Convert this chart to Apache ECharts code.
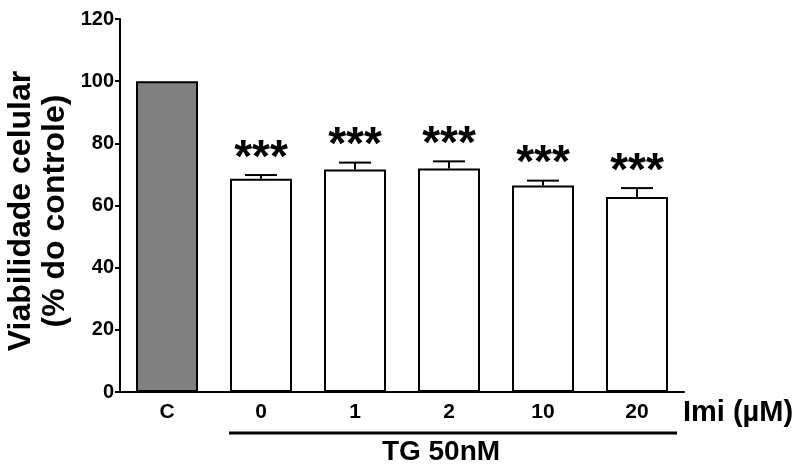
<!DOCTYPE html>
<html>
<head>
<meta charset="utf-8">
<script src="https://cdn.jsdelivr.net/npm/echarts@6/dist/echarts.min.js"></script>
<style>html,body{margin:0;padding:0;background:#fff;}#c{width:796px;height:469px;}</style>
</head>
<body>
<div id="c"></div>
<script>
var categories = ['C', '0', '1', '2', '10', '20'];
var values = [100, 68.6, 71.6, 71.9, 66.4, 62.7];
var errors = [0, 1.2, 2.2, 2.3, 1.6, 2.9];
var marks = ['', '***', '***', '***', '***', '***'];
var yTicks = [0, 20, 40, 60, 80, 100, 120];

var FONT = "'Liberation Sans', Arial, Helvetica, sans-serif";
var chart = echarts.init(document.getElementById('c'), null, {renderer: 'canvas'});

var barData = values.map(function (v, i) {
  return {
    value: v,
    itemStyle: {color: i === 0 ? '#808080' : '#ffffff'}
  };
});
var errData = values.map(function (v, i) { return [i, v, v + errors[i], marks[i]]; });

chart.setOption({
  animation: false,
  backgroundColor: '#fff',
  grid: {left: 120, right: 112, top: 19, bottom: 77, containLabel: false},
  xAxis: {
    type: 'category',
    data: categories,
    axisLine: {lineStyle: {color: '#000', width: 2}},
    axisTick: {alignWithLabel: true, length: 5, lineStyle: {color: '#000', width: 2}},
    axisLabel: {color: '#000', fontFamily: FONT, fontWeight: 'bold', fontSize: 21, margin: 10}
  },
  yAxis: {
    type: 'value',
    min: yTicks[0], max: yTicks[yTicks.length - 1], interval: 20,
    splitLine: {show: false},
    axisLine: {show: true, lineStyle: {color: '#000', width: 2}},
    axisTick: {show: true, length: 5, lineStyle: {color: '#000', width: 2}},
    axisLabel: {color: '#000', fontFamily: FONT, fontWeight: 'bold', fontSize: 20, margin: 6}
  },
  series: [
    {
      type: 'bar',
      data: barData,
      barWidth: 62,
      itemStyle: {borderColor: '#000', borderWidth: 2}
    },
    {
      type: 'custom',
      data: errData,
      z: 5,
      renderItem: function (params, api) {
        var x = api.value(0);
        var lo = api.coord([x, api.value(1)]);
        var hi = api.coord([x, api.value(2)]);
        var txt = api.value(3);
        var children = [];
        if (api.value(2) > api.value(1)) {
          children.push({type: 'line', shape: {x1: lo[0], y1: lo[1], x2: hi[0], y2: hi[1]}, style: {stroke: '#000', lineWidth: 2}});
          children.push({type: 'line', shape: {x1: hi[0] - 16, y1: hi[1], x2: hi[0] + 16, y2: hi[1]}, style: {stroke: '#000', lineWidth: 2}});
        }
        if (txt) {
          children.push({type: 'text', x: hi[0], y: hi[1] + 7, style: {text: txt, fill: '#000', font: 'bold 46px ' + FONT, align: 'center', verticalAlign: 'bottom'}});
        }
        return {type: 'group', children: children};
      }
    }
  ],
  graphic: [
    {type: 'text', x: 38, y: 211, rotation: Math.PI / 2,
     style: {text: 'Viabilidade celular\n(% do controle)', fill: '#000', font: 'bold 32px ' + FONT, align: 'center', verticalAlign: 'middle', lineHeight: 34}},
    {type: 'line', shape: {x1: 229, y1: 433, x2: 677, y2: 433}, style: {stroke: '#000', lineWidth: 3}},
    {type: 'text', x: 441, y: 452, style: {text: 'TG 50nM', fill: '#000', font: 'bold 28px ' + FONT, align: 'center', verticalAlign: 'middle'}},
    {type: 'text', x: 683, y: 413, style: {text: 'Imi (\u00b5M)', fill: '#000', font: 'bold 29px ' + FONT, align: 'left', verticalAlign: 'middle'}}
  ]
});
</script>
</body>
</html>
